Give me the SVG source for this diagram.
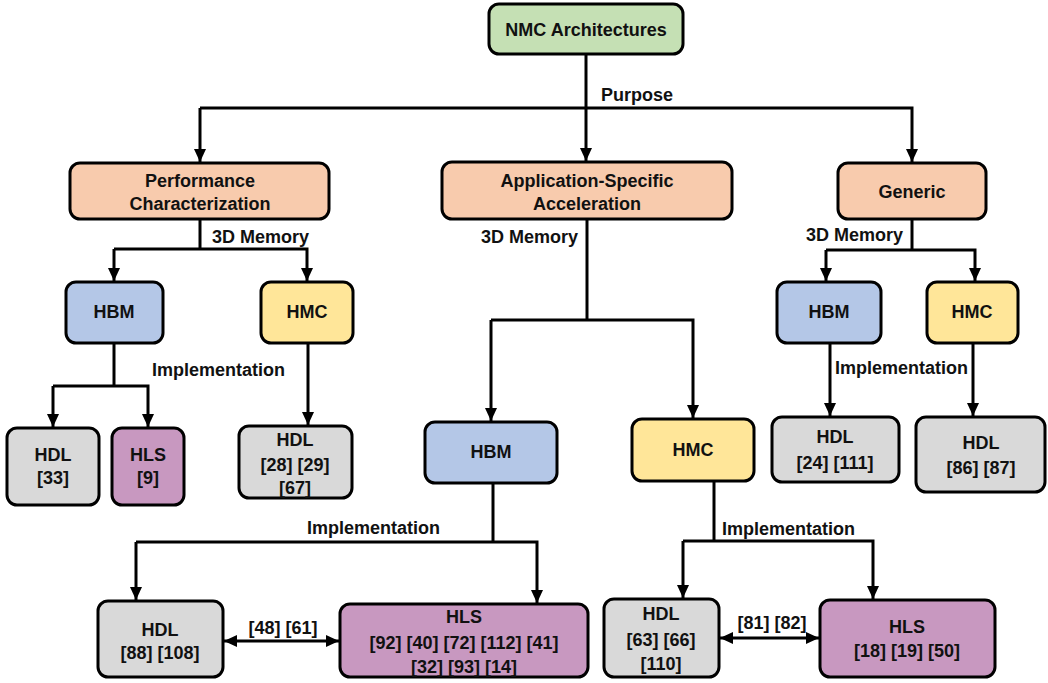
<svg xmlns="http://www.w3.org/2000/svg" width="1048" height="683" viewBox="0 0 1048 683">
<defs>
<marker id="ah" markerUnits="userSpaceOnUse" markerWidth="14" markerHeight="14" refX="13" refY="7" orient="auto-start-reverse">
<path d="M0,1 L13,7 L0,13 Z" fill="#000"/>
</marker>
</defs>
<style>
.b{stroke:#000;stroke-width:3}
.g{fill:#c5e0b4}.o{fill:#f8cbad}.bl{fill:#b4c7e7}.y{fill:#ffe699}.gr{fill:#d9d9d9}.p{fill:#c898c0}
text{font-family:"Liberation Sans",Arial,sans-serif;font-weight:bold;font-size:18px;fill:#111}
.c{text-anchor:middle}
.w{fill:none;stroke:#000;stroke-width:3}
.a{marker-end:url(#ah)}
.d{marker-start:url(#ah);marker-end:url(#ah)}
</style>
<rect width="1048" height="683" fill="#fff"/>
<g id="connectors">
<path class="w" d="M586,54 V108"/>
<path class="w a" d="M200,108 H912 V162"/>
<path class="w a" d="M200,108 V162"/>
<path class="w a" d="M586,108 V161"/>
<path class="w" d="M200,219 V249"/>
<path class="w a" d="M114,249 H307 V281"/>
<path class="w a" d="M114,249 V281"/>
<path class="w" d="M114,343 V386"/>
<path class="w a" d="M53,386 H148 V427"/>
<path class="w a" d="M53,386 V427"/>
<path class="w a" d="M308,341 V425"/>
<path class="w" d="M587,219 V320"/>
<path class="w a" d="M491,320 H693 V418"/>
<path class="w a" d="M491,320 V421"/>
<path class="w" d="M912,219 V250"/>
<path class="w a" d="M826,250 H975 V281"/>
<path class="w a" d="M826,250 V281"/>
<path class="w a" d="M830,343 V416"/>
<path class="w a" d="M973,343 V416"/>
<path class="w" d="M493,483 V542"/>
<path class="w a" d="M136,542 H537 V603"/>
<path class="w a" d="M136,542 V600"/>
<path class="w d" d="M224,641 H339"/>
<path class="w" d="M714,481 V541"/>
<path class="w a" d="M683,541 H873 V599"/>
<path class="w a" d="M683,541 V598"/>
<path class="w d" d="M720,638 H819"/>
</g>
<g id="labels">
<text x="601" y="101">Purpose</text>
<text x="212" y="243">3D Memory</text>
<text x="578" y="243" text-anchor="end">3D Memory</text>
<text x="903" y="241" text-anchor="end">3D Memory</text>
<text x="152" y="376">Implementation</text>
<text x="835" y="374">Implementation</text>
<text x="307" y="534">Implementation</text>
<text x="722" y="535">Implementation</text>
<text class="c" x="283" y="634">[48] [61]</text>
<text class="c" x="772" y="629">[81] [82]</text>
</g>
<g id="n-root"><rect class="b g" x="489" y="4" width="194" height="50" rx="10"/><text class="c" x="586" y="36">NMC Architectures</text></g>
<g id="n-perf"><rect class="b o" x="70" y="163" width="259" height="56" rx="10"/><text class="c" x="200" y="187">Performance</text><text class="c" x="200" y="210">Characterization</text></g>
<g id="n-app"><rect class="b o" x="442" y="162" width="290" height="57" rx="10"/><text class="c" x="587" y="187">Application-Specific</text><text class="c" x="587" y="210">Acceleration</text></g>
<g id="n-gen"><rect class="b o" x="838" y="163" width="148" height="56" rx="10"/><text class="c" x="912" y="198">Generic</text></g>
<g id="n-perf-hbm"><rect class="b bl" x="66" y="282" width="97" height="61" rx="10"/><text class="c" x="114" y="318">HBM</text></g>
<g id="n-perf-hmc"><rect class="b y" x="261" y="282" width="92" height="61" rx="10"/><text class="c" x="307" y="318">HMC</text></g>
<g id="n-perf-hdl1"><rect class="b gr" x="7" y="428" width="92" height="77" rx="10"/><text class="c" x="53" y="461">HDL</text><text class="c" x="53" y="484">[33]</text></g>
<g id="n-perf-hls1"><rect class="b p" x="112" y="428" width="72" height="77" rx="10"/><text class="c" x="148" y="461">HLS</text><text class="c" x="148" y="484">[9]</text></g>
<g id="n-perf-hdl2"><rect class="b gr" x="239" y="426" width="113" height="72" rx="10"/><text class="c" x="295" y="446">HDL</text><text class="c" x="295" y="471">[28] [29]</text><text class="c" x="295" y="494">[67]</text></g>
<g id="n-app-hbm"><rect class="b bl" x="425" y="422" width="132" height="61" rx="10"/><text class="c" x="491" y="458">HBM</text></g>
<g id="n-app-hmc"><rect class="b y" x="632" y="419" width="122" height="62" rx="10"/><text class="c" x="693" y="456">HMC</text></g>
<g id="n-gen-hbm"><rect class="b bl" x="777" y="282" width="104" height="61" rx="10"/><text class="c" x="829" y="318">HBM</text></g>
<g id="n-gen-hmc"><rect class="b y" x="927" y="282" width="91" height="61" rx="10"/><text class="c" x="972" y="318">HMC</text></g>
<g id="n-gen-hdl1"><rect class="b gr" x="772" y="417" width="127" height="65" rx="10"/><text class="c" x="835" y="443">HDL</text><text class="c" x="835" y="469">[24] [111]</text></g>
<g id="n-gen-hdl2"><rect class="b gr" x="916" y="417" width="129" height="75" rx="10"/><text class="c" x="981" y="449">HDL</text><text class="c" x="981" y="474">[86] [87]</text></g>
<g id="n-app-hbm-hdl"><rect class="b gr" x="98" y="601" width="125" height="76" rx="10"/><text class="c" x="160" y="636">HDL</text><text class="c" x="160" y="659">[88] [108]</text></g>
<g id="n-app-hbm-hls"><rect class="b p" x="340" y="604" width="248" height="73" rx="10"/><text class="c" x="464" y="623">HLS</text><text class="c" x="464" y="649">[92] [40] [72] [112] [41]</text><text class="c" x="464" y="673">[32] [93] [14]</text></g>
<g id="n-app-hmc-hdl"><rect class="b gr" x="604" y="599" width="115" height="78" rx="10"/><text class="c" x="661" y="620">HDL</text><text class="c" x="661" y="646">[63] [66]</text><text class="c" x="661" y="670">[110]</text></g>
<g id="n-app-hmc-hls"><rect class="b p" x="820" y="600" width="175" height="77" rx="10"/><text class="c" x="907" y="633">HLS</text><text class="c" x="907" y="657">[18] [19] [50]</text></g>
</svg>
